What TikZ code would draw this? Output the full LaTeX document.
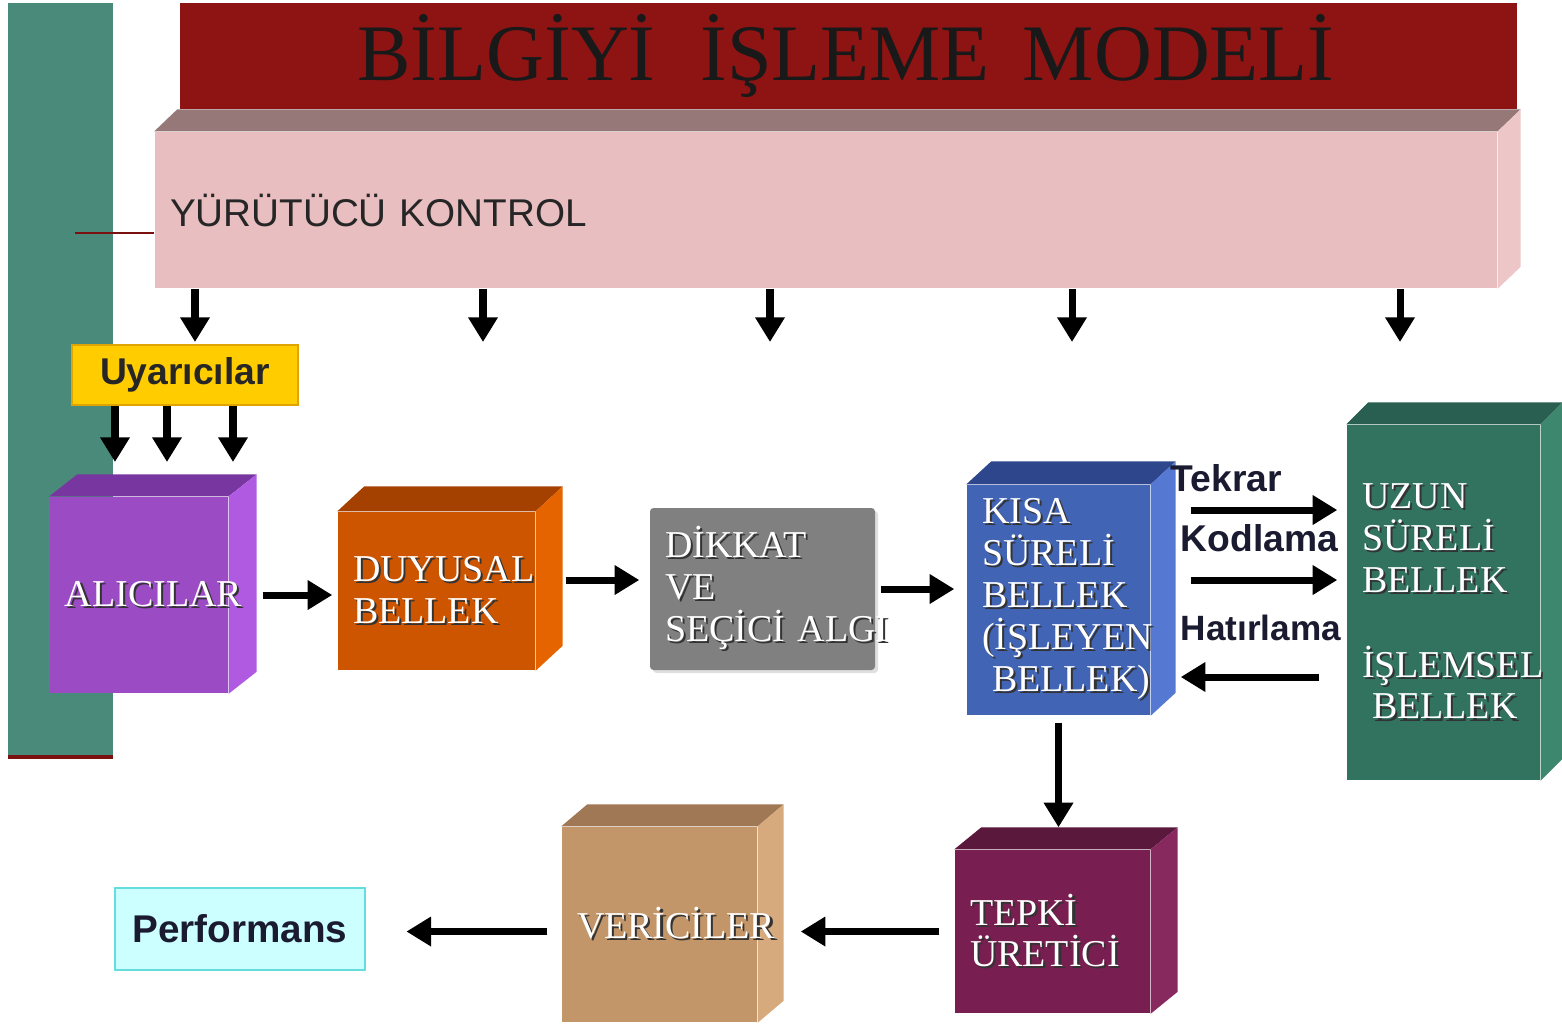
\documentclass[tikz,border=0pt]{standalone}
\usepackage{fontspec}
\setmainfont{Liberation Serif}
\newfontfamily\arial{Liberation Sans}
\usetikzlibrary{arrows.meta,backgrounds,shadows}

% renkler
\definecolor{yesilbar}{HTML}{4A8A7A}
\definecolor{baslikkirmizi}{HTML}{8E1414}
\definecolor{koyukirmizi}{HTML}{7A1010}
\definecolor{pembe}{HTML}{E8BEC0}
\definecolor{pembesag}{HTML}{EDC6C8}
\definecolor{griust}{HTML}{967878}
\definecolor{sari}{HTML}{FFCC00}
\definecolor{sarikenar}{HTML}{E0A400}
\definecolor{alicion}{HTML}{9B4BC3}
\definecolor{aliciust}{HTML}{7837A0}
\definecolor{alicisag}{HTML}{AF5AE1}
\definecolor{duyuon}{HTML}{CD5500}
\definecolor{duyuust}{HTML}{A54100}
\definecolor{duyusag}{HTML}{E66400}
\definecolor{dikkatgri}{HTML}{808080}
\definecolor{kisaon}{HTML}{4164B4}
\definecolor{kisaust}{HTML}{2D468C}
\definecolor{kisasag}{HTML}{5578D2}
\definecolor{uzunon}{HTML}{32735F}
\definecolor{uzunust}{HTML}{285F50}
\definecolor{uzunsag}{HTML}{3C876E}
\definecolor{tepkion}{HTML}{781E50}
\definecolor{tepkiust}{HTML}{5A193C}
\definecolor{tepkisag}{HTML}{87285F}
\definecolor{vericion}{HTML}{C39669}
\definecolor{vericiust}{HTML}{A07855}
\definecolor{vericisag}{HTML}{D7AA7D}
\definecolor{perfic}{HTML}{CCFFFF}
\definecolor{perfkenar}{HTML}{66DDDD}
\definecolor{yazikoyu}{HTML}{1A1A30}

% golgeli beyaz yazi
\newcommand{\golge}[1]{\leavevmode\rlap{\kern0.6pt\raisebox{-0.6pt}{\color{black!80}#1}}\mbox{#1}}
% kupun ust ve sag yuzleri
\newcommand{\kupyuz}[4]{%
  \fill[#2] (#1.north west) -- ++#4 -- ([shift={#4}]#1.north east) -- (#1.north east) -- cycle;
  \fill[#3] (#1.north east) -- ++#4 -- ([shift={#4}]#1.south east) -- (#1.south east) -- cycle;}

\begin{document}
\begin{tikzpicture}[
  arr/.style={line width=2pt, -{Triangle[length=7pt,width=8pt]}},
  kupon/.style={draw=none, inner xsep=0.15cm, inner ysep=0pt, align=left, text=white,
    font=\fontsize{10.8}{11.9}\selectfont},
  etiket/.style={font=\arial\bfseries\fontsize{10.6}{12}\selectfont, text=yazikoyu, inner sep=0pt}]
  \useasboundingbox (0,0) rectangle (15.62,-10.27);

  % sol seritler
  \begin{pgfonlayer}{background}
    \fill[yesilbar] (0.08,-0.03) rectangle (1.13,-7.57);
    \draw[koyukirmizi, line width=0.9pt] (0.08,-7.57) -- (1.13,-7.57);
  \end{pgfonlayer}

  % baslik
  \fill[baslikkirmizi] (1.80,-0.03) rectangle (15.17,-1.09);
  \node[font=\fontsize{22.8}{26}\selectfont, text=black!90] (baslik) at (8.46,-0.56)
    {BİLGİYİ\hspace{0.45cm}İŞLEME\hspace{0.33cm}MODELİ};

  % yurutucu kontrol
  \node[fill=pembe, minimum width=13.42cm, minimum height=1.56cm, inner xsep=0.15cm,
    text width=13.12cm, align=left, font=\arial\fontsize{11}{13}\selectfont, text=black!85]
    (kontrol) at (8.26,-2.10) {YÜRÜTÜCÜ KONTROL};
  \coordinate (kol) at (0.75,-2.33);
  \draw[koyukirmizi, line width=0.6pt] (kol) -- (kontrol.west |- kol);

  \node[draw=sarikenar, fill=sari, line width=0.8pt, minimum width=2.26cm, minimum height=0.60cm,
    font=\arial\bfseries\fontsize{10.6}{13}\selectfont, text=black!85] (uyari) at (1.85,-3.75) {Uyarıcılar};

  \foreach \x [count=\i] in {1.95,4.83,7.70,10.72,14.00} {
    \coordinate (k\i) at (\x,-3.42);
    \draw[arr] (kontrol.south -| k\i) -- (k\i);
  }
  \foreach \x [count=\i] in {1.15,1.67,2.33} {
    \coordinate (u\i) at (\x,-4.62);
    \draw[arr] (uyari.south -| u\i) -- (u\i);
  }

  % kutular
  \node[kupon, fill=alicion, minimum width=1.78cm, minimum height=1.96cm, text width=1.48cm]
    (alici) at (1.39,-5.95) {\golge{ALICILAR}};
  \node[kupon, fill=duyuon, minimum width=1.97cm, minimum height=1.58cm, text width=1.67cm]
    (duyu) at (4.365,-5.91) {\golge{DUYUSAL}\\\golge{BELLEK}};
  \node[kupon, fill=dikkatgri, rounded corners=1pt, minimum width=2.25cm, minimum height=1.62cm,
    text width=1.95cm, drop shadow={shadow xshift=0.03cm, shadow yshift=-0.03cm, opacity=0.25}]
    (dikkat) at (7.625,-5.89) {\golge{DİKKAT}\\\golge{VE}\\\golge{SEÇİCİ ALGI}};
  \node[kupon, fill=kisaon, minimum width=1.83cm, minimum height=2.30cm, text width=1.53cm]
    (kisa) at (10.585,-6.00)
    {\golge{KISA}\\\golge{SÜRELİ}\\\golge{BELLEK}\\\golge{(İŞLEYEN}\\\hspace*{0.1cm}\golge{BELLEK)}};
  \node[kupon, fill=uzunon, minimum width=1.93cm, minimum height=3.55cm, text width=1.63cm]
    (uzun) at (14.435,-6.025)
    {\golge{UZUN}\\\golge{SÜRELİ}\\\golge{BELLEK}\\[0.43cm]\golge{İŞLEMSEL}\\\hspace*{0.1cm}\golge{BELLEK}};
  \node[kupon, fill=tepkion, minimum width=1.95cm, minimum height=1.63cm, text width=1.65cm]
    (tepki) at (10.525,-9.315) {\golge{TEPKİ}\\\golge{ÜRETİCİ}};
  \node[kupon, fill=vericion, minimum width=1.95cm, minimum height=1.95cm, text width=1.65cm]
    (verici) at (6.595,-9.245) {\golge{VERİCİLER}};
  \node[draw=perfkenar, fill=perfic, line width=0.8pt, minimum width=2.50cm, minimum height=0.82cm,
    font=\arial\bfseries\fontsize{11}{13}\selectfont, text=yazikoyu] (perf) at (2.40,-9.29) {Performans};

  \begin{pgfonlayer}{background}
    \kupyuz{kontrol}{griust}{pembesag}{(0.23,0.22)}
    \kupyuz{alici}{aliciust}{alicisag}{(0.28,0.22)}
    \kupyuz{duyu}{duyuust}{duyusag}{(0.27,0.25)}
    \kupyuz{kisa}{kisaust}{kisasag}{(0.25,0.23)}
    \kupyuz{uzun}{uzunust}{uzunsag}{(0.22,0.22)}
    \kupyuz{tepki}{tepkiust}{tepkisag}{(0.27,0.22)}
    \kupyuz{verici}{vericiust}{vericisag}{(0.26,0.22)}
  \end{pgfonlayer}

  % etiketler
  \node[etiket, anchor=west] (tekrar) at (11.70,-4.78) {Tekrar};
  \node[etiket, anchor=west] (kodlama) at (11.80,-5.38) {Kodlama};
  \node[etiket, anchor=west, font=\arial\bfseries\fontsize{10}{12}\selectfont] (hatirlama) at (11.80,-6.28) {Hatırlama};

  % oklar
  \draw[arr, shorten <=0.34cm, shorten >=0.05cm] (alici.east) -- (duyu.west |- alici.east);
  \draw[arr, shorten <=0.30cm, shorten >=0.10cm] ([yshift=0.11cm]duyu.east) -- ([yshift=0.11cm]duyu.east -| dikkat.west);
  \draw[arr, shorten <=0.05cm, shorten >=0.12cm] (dikkat.east) -- (dikkat.east -| kisa.west);
  \draw[arr, shorten <=0.40cm, shorten >=0.09cm] ([yshift=0.90cm]kisa.east) -- ([yshift=0.90cm]kisa.east -| uzun.west);
  \draw[arr, shorten <=0.40cm, shorten >=0.09cm] ([yshift=0.20cm]kisa.east) -- ([yshift=0.20cm]kisa.east -| uzun.west);
  \draw[arr, shorten <=0.27cm, shorten >=0.30cm] ([yshift=-0.77cm]kisa.east -| uzun.west) -- ([yshift=-0.77cm]kisa.east);
  \draw[arr, shorten <=0.07cm, shorten >=0.22cm] (kisa.south) -- (kisa.south |- tepki.north);
  \draw[arr, shorten <=0.15cm, shorten >=0.43cm] (tepki.west) -- (tepki.west -| verici.east);
  \draw[arr, shorten <=0.14cm, shorten >=0.40cm] (verici.west |- tepki.west) -- (perf.east |- tepki.west);
\end{tikzpicture}
\end{document}
